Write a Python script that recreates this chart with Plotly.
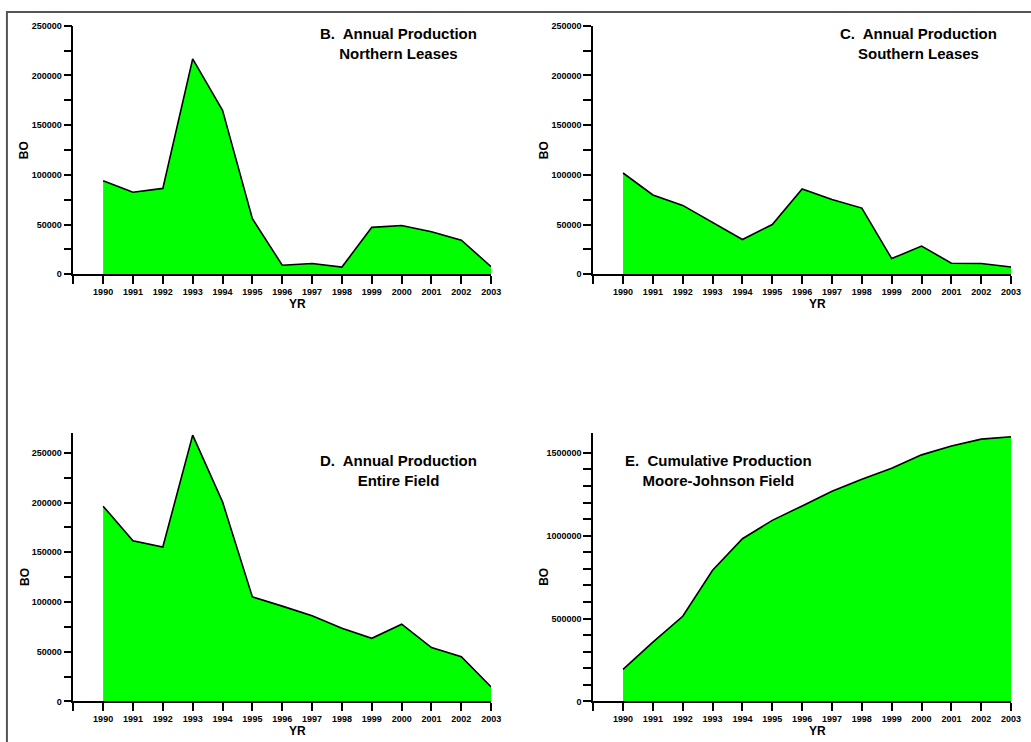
import plotly.graph_objects as go

# ---------------- data ----------------
years = [1990, 1991, 1992, 1993, 1994, 1995, 1996, 1997, 1998, 1999, 2000, 2001, 2002, 2003]
northern_bo = [94000, 82500, 86400, 216700, 165000, 56000, 9200, 10900, 7300, 47200, 49100, 42900, 34300, 7600]
southern_bo = [101900, 79800, 69300, 51800, 35000, 50100, 85800, 75200, 66600, 15800, 28400, 11200, 10900, 7300]
entire_bo = [196400, 161700, 155400, 267900, 200700, 105200, 95900, 86300, 73700, 63500, 77700, 54200, 45000, 14500]
cumulative_bo = [194000, 358000, 514000, 792000, 982000, 1093000, 1180000, 1268000, 1341000, 1407000,
                 1488000, 1542000, 1583000, 1597000]

title_b = "B.\u00a0 Annual Production<br>Northern Leases"
title_c = "C.\u00a0 Annual Production<br>Southern Leases"
title_d = "D.\u00a0 Annual Production<br>Entire Field"
title_e = "E.\u00a0 Cumulative Production<br>Moore-Johnson Field"

x_tick_years = [1989] + years
x_tick_text = [""] + [str(y) for y in years]

annual_ticks = list(range(0, 250001, 25000))
annual_text = [str(v) if v % 50000 == 0 else "" for v in annual_ticks]
cum_ticks = list(range(0, 1500001, 100000))
cum_text = [str(v) if v % 500000 == 0 else "" for v in cum_ticks]

# ---------------- layout helpers ----------------
W, H = 1031, 742
FONT = "Liberation Sans, Arial, sans-serif"
GREEN = "#00FF00"


def fx(p):
    return p / W


def fy(p):
    return 1 - p / H


panels = [
    dict(series=northern_bo, xpx=(74, 496), ypx=(21, 273), yrange=[0, 250000],
         tv=annual_ticks, tt=annual_text, title=title_b, tcx=402.5, tcy=39.5,
         bo_x=24.5, yr_y=303.5, bo_mid=125000),
    dict(series=southern_bo, xpx=(599, 1021), ypx=(21, 273), yrange=[0, 250000],
         tv=annual_ticks, tt=annual_text, title=title_c, tcx=928, tcy=39.5,
         bo_x=549.5, yr_y=303.5, bo_mid=125000),
    dict(series=entire_bo, xpx=(74, 496), ypx=(433.84, 706), yrange=[0, 270000],
         tv=annual_ticks, tt=annual_text, title=title_d, tcx=402.5, tcy=471.5,
         bo_x=25, yr_y=735.5, bo_mid=125000),
    dict(series=cumulative_bo, xpx=(599, 1021), ypx=(433.84, 706), yrange=[0, 1620000],
         tv=cum_ticks, tt=cum_text, title=title_e, tcx=726, tcy=471.5,
         bo_x=550, yr_y=735.5, bo_mid=750000),
]

fig = go.Figure()
layout = dict(
    width=W, height=H,
    margin=dict(l=0, r=0, t=0, b=0),
    paper_bgcolor="white", plot_bgcolor="white",
    showlegend=False,
    font=dict(family=FONT, color="black"),
)
annotations = []

tick_font = dict(family=FONT, size=9, color="black", weight="bold")

for i, p in enumerate(panels):
    n = "" if i == 0 else str(i + 1)
    xa, ya = "x" + n, "y" + n
    fig.add_trace(go.Scatter(
        x=years, y=p["series"], xaxis=xa, yaxis=ya,
        mode="lines", fill="tozeroy", fillcolor=GREEN,
        line=dict(color="black", width=1.6), hoverinfo="x+y",
    ))
    layout["xaxis" + n] = dict(
        domain=[fx(p["xpx"][0]), fx(p["xpx"][1])], range=[1989, 2003], anchor=ya,
        tickmode="array", tickvals=x_tick_years, ticktext=x_tick_text,
        ticks="outside", ticklen=8, tickwidth=1.5, tickcolor="black",
        showline=True, linecolor="black", linewidth=1.5,
        showgrid=False, zeroline=False, tickfont=tick_font,
    )
    layout["yaxis" + n] = dict(
        domain=[fy(p["ypx"][1]), fy(p["ypx"][0])], range=p["yrange"], anchor=xa,
        tickmode="array", tickvals=p["tv"], ticktext=p["tt"],
        ticks="outside", ticklen=8, tickwidth=1.5, tickcolor="black",
        showline=True, linecolor="black", linewidth=1.5,
        showgrid=False, zeroline=False, tickfont=tick_font,
    )
    # panel title (two lines)
    annotations.append(dict(
        text=p["title"], xref="paper", yref="paper", x=fx(p["tcx"]), y=fy(p["tcy"]),
        xanchor="center", yanchor="middle", align="center", showarrow=False,
        font=dict(family=FONT, size=15, color="black", weight="bold"),
    ))
    # axis titles
    annotations.append(dict(
        text="BO", xref="paper", yref=ya, x=fx(p["bo_x"]), y=p["bo_mid"],
        xanchor="center", yanchor="middle", textangle=-90, showarrow=False,
        font=dict(family=FONT, size=12, color="black", weight="bold"),
    ))
    annotations.append(dict(
        text="YR", xref=xa, yref="paper", x=(years[0] + years[-1]) / 2, y=fy(p["yr_y"]),
        xanchor="center", yanchor="middle", showarrow=False,
        font=dict(family=FONT, size=12, color="black", weight="bold"),
    ))

layout["annotations"] = annotations
# outer frame of the figure (runs off the right and bottom edges)
layout["shapes"] = [dict(
    type="rect", xref="paper", yref="paper",
    x0=fx(7), x1=1.05, y0=-0.05, y1=fy(7),
    line=dict(color="#555555", width=2), fillcolor="rgba(0,0,0,0)", layer="above",
)]
fig.update_layout(**layout)

fig.write_html("out.html", config={"displayModeBar": False},
               post_script="document.body.style.margin='0';")
